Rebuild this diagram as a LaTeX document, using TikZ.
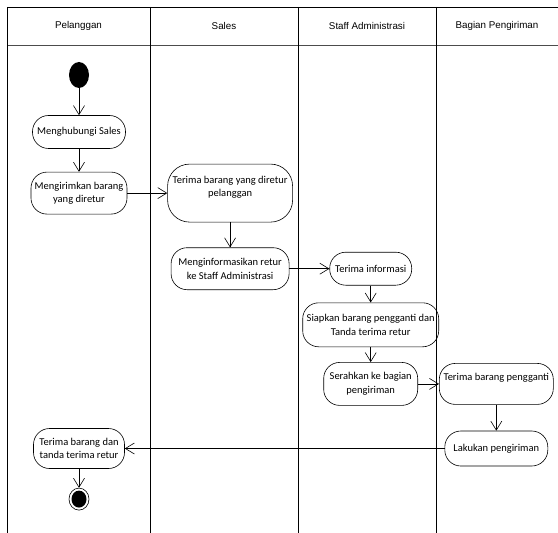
\documentclass[tikz,border=0pt]{standalone}
\usepackage{fontspec}
\setmainfont{Carlito}
\newfontfamily\lanefont{Liberation Sans}
\usetikzlibrary{shapes.geometric, arrows.meta, positioning}

\begin{document}
\begin{tikzpicture}[
        x=1bp, y=-1bp,
        act/.style={rectangle, draw=black, rounded corners=16bp, line width=0.6bp, align=center, inner xsep=1bp, inner ysep=2bp, font=\fontsize{10.5bp}{13.5bp}\selectfont},
        initial/.style={ellipse, fill=black, minimum width=20bp, minimum height=26bp, inner sep=0pt},
        final/.style={ellipse, draw=black, line width=0.6bp, minimum width=20bp, minimum height=22bp, inner sep=0pt,
            path picture={\fill[black] (path picture bounding box.center) ellipse (7.5bp and 8.5bp);}},
        lanehead/.style={font=\lanefont\fontsize{9.8bp}{11bp}\selectfont},
        flow/.style={line width=0.6bp, -{Straight Barb[length=9bp,width=11bp]}}
    ]
        \useasboundingbox (0,0) rectangle (558,533);

        % Swimlanes
        \draw[line width=0.6bp] (7,7) -- (558,7);
        \draw[black!70, line width=0.9bp] (7,45) -- (558,45);
        \foreach \xa/\xb/\lane/\title in {7/150/pel/Pelanggan, 150/298/sal/Sales, 298/436/adm/Staff Administrasi, 436/558/kir/Bagian Pengiriman}{
            \draw[line width=0.6bp] (\xa,7) -- (\xa,533);
            \node[lanehead] (head-\lane) at ({(\xa+\xb)/2},26) {\title};
        }

        % Nodes
        \node[initial] (start) at (79,75) {};
        \node[act, minimum width=93bp, minimum height=33bp, below=27bp of start] (hubungi) {Menghubungi Sales};
        \node[act, minimum width=96bp, minimum height=42bp, below=23bp of hubungi] (kirim) {Mengirimkan barang\\yang diretur};
        \node[act, rounded corners=22bp, minimum width=125bp, minimum height=58bp, right=40bp of kirim] (terima) {Terima barang yang diretur\\pelanggan\\\mbox{}};
        \node[act, minimum width=118bp, minimum height=42bp, below=25bp of terima] (info) {Menginformasikan retur\\ke Staff Administrasi};
        \node[act, minimum width=82bp, minimum height=33bp, right=40bp of info] (terimainfo) {Terima informasi};
        \node[act, minimum width=136bp, minimum height=44bp, below=17bp of terimainfo] (siapkan) {Siapkan barang pengganti dan\\Tanda terima retur};
        \node[act, minimum width=94bp, minimum height=43bp, below=15bp of siapkan] (serahkan) {Serahkan ke bagian\\pengiriman};
        \node[act, minimum width=114bp, minimum height=41bp, right=21bp of serahkan] (pengganti) {Terima barang pengganti\\\mbox{}};
        \node[act, minimum width=103bp, minimum height=35bp, below=26bp of pengganti] (lakukan) {Lakukan pengiriman};
        \node[act, minimum width=91bp, minimum height=40bp] (terimaretur) at (kirim |- lakukan) {Terima barang dan\\tanda terima retur};
        \node[final, below=19bp of terimaretur] (end) {};

        % Arrows
        \draw[flow] (start) -- (hubungi);
        \draw[flow] (hubungi) -- (kirim);
        \draw[flow] (kirim) -- (terima);
        \draw[flow] (terima) -- (info);
        \draw[flow] (info) -- (terimainfo);
        \draw[flow] (terimainfo) -- (siapkan);
        \draw[flow] (siapkan) -- (serahkan);
        \draw[flow] (serahkan) -- (pengganti);
        \draw[flow] (pengganti) -- (lakukan);
        \draw[flow] (lakukan) -- (terimaretur);
        \draw[flow] (terimaretur) -- (end);
    \end{tikzpicture}
\end{document}
